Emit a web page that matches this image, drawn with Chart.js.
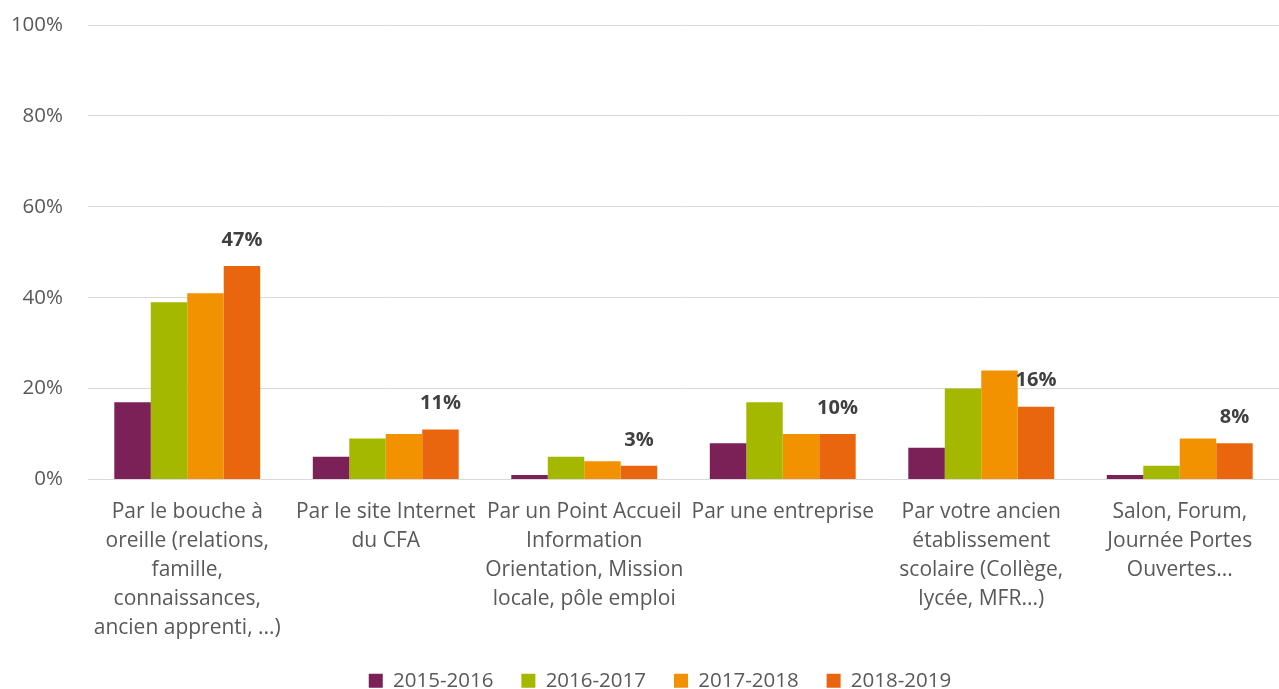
<!DOCTYPE html>
<html>
<head>
<meta charset="utf-8">
<script src="https://cdn.jsdelivr.net/npm/chart.js@4"></script>
<style>
  html, body { margin: 0; padding: 0; background: #fff; }
  #wrap { width: 1279px; height: 689px; }
</style>
</head>
<body>
<div id="wrap"><canvas id="chart" width="1279" height="689"></canvas></div>
<script>
// categories (x axis), one array of lines per label
const categories = [
  ['Par le bouche à', 'oreille (relations,', 'famille,', 'connaissances,', 'ancien apprenti, ...)'],
  ['Par le site Internet', 'du CFA'],
  ['Par un Point Accueil', 'Information', 'Orientation, Mission', 'locale, pôle emploi'],
  ['Par une entreprise'],
  ['Par votre ancien', 'établissement', 'scolaire (Collège,', 'lycée, MFR...)'],
  ['Salon, Forum,', 'Journée Portes', 'Ouvertes...']
];

const seriesNames = ['2015-2016', '2016-2017', '2017-2018', '2018-2019'];
const values2015 = [17, 5, 1, 8, 7, 1];
const values2016 = [39, 9, 5, 17, 20, 3];
const values2017 = [41, 10, 4, 10, 24, 9];
const values2018 = [47, 11, 3, 10, 16, 8];
const yTicks = [0, 20, 40, 60, 80, 100];

const colors = ['#7B2157', '#A5B800', '#F39200', '#E9660F'];
const textColor = '#595959';
const fontFamily = '"Open Sans", "Noto Sans", sans-serif';

// labels only on the last series, like the original
const lastSeriesLabels = {
  id: 'lastSeriesLabels',
  afterDatasetsDraw(chart) {
    const { ctx } = chart;
    const idx = chart.data.datasets.length - 1;
    const meta = chart.getDatasetMeta(idx);
    ctx.save();
    ctx.font = 'bold 20px ' + fontFamily;
    ctx.fillStyle = '#404040';
    ctx.textAlign = 'center';
    ctx.textBaseline = 'middle';
    meta.data.forEach((bar, i) => {
      const v = chart.data.datasets[idx].data[i];
      ctx.fillText(v + '%', bar.x, bar.y - 26);
    });
    ctx.restore();
  }
};

// legend sits a bit right of the canvas centre in the original
const legendShift = {
  id: 'legendShift',
  afterLayout(chart) {
    chart.legend.left = 41;
    chart.legend.right = 1279;
  }
};

const datasets = [values2015, values2016, values2017, values2018].map((vals, i) => ({
  label: seriesNames[i],
  data: vals,
  backgroundColor: colors[i],
  borderWidth: 0,
  barPercentage: 1.0,
  categoryPercentage: 0.735
}));

const ctx = document.getElementById('chart').getContext('2d');
const chart = new Chart(ctx, {
  type: 'bar',
  data: { labels: categories, datasets: datasets },
  plugins: [lastSeriesLabels, legendShift],
  options: {
    responsive: false,
    animation: false,
    layout: { padding: { top: 25, right: 0, left: 0, bottom: -12 } },
    plugins: {
      legend: {
        position: 'bottom',
        labels: {
          boxWidth: 14,
          boxHeight: 14,
          padding: 28,
          color: textColor,
          font: { family: fontFamily, size: 20.5 }
        }
      },
      tooltip: { enabled: false }
    },
    scales: {
      x: {
        grid: { display: false },
        border: { display: false },
        ticks: {
          color: textColor,
          font: { family: fontFamily, size: 21, lineHeight: '29px' },
          maxRotation: 0,
          autoSkip: false,
          padding: 10
        },
        afterFit(scale) { scale.height = 163; }
      },
      y: {
        min: 0,
        max: 100,
        afterBuildTicks(scale) { scale.ticks = yTicks.map(v => ({ value: v })); },
        grid: { color: '#d9d9d9', lineWidth: 1, drawTicks: false },
        border: { display: false },
        ticks: {
          color: textColor,
          font: { family: fontFamily, size: 20.5 },
          padding: 25,
          callback: v => v + '%'
        },
        afterFit(scale) {
          scale.width = 88;
          scale.paddingTop = 0;
          scale.paddingBottom = 0;
        }
      }
    }
  }
});
</script>
</body>
</html>
